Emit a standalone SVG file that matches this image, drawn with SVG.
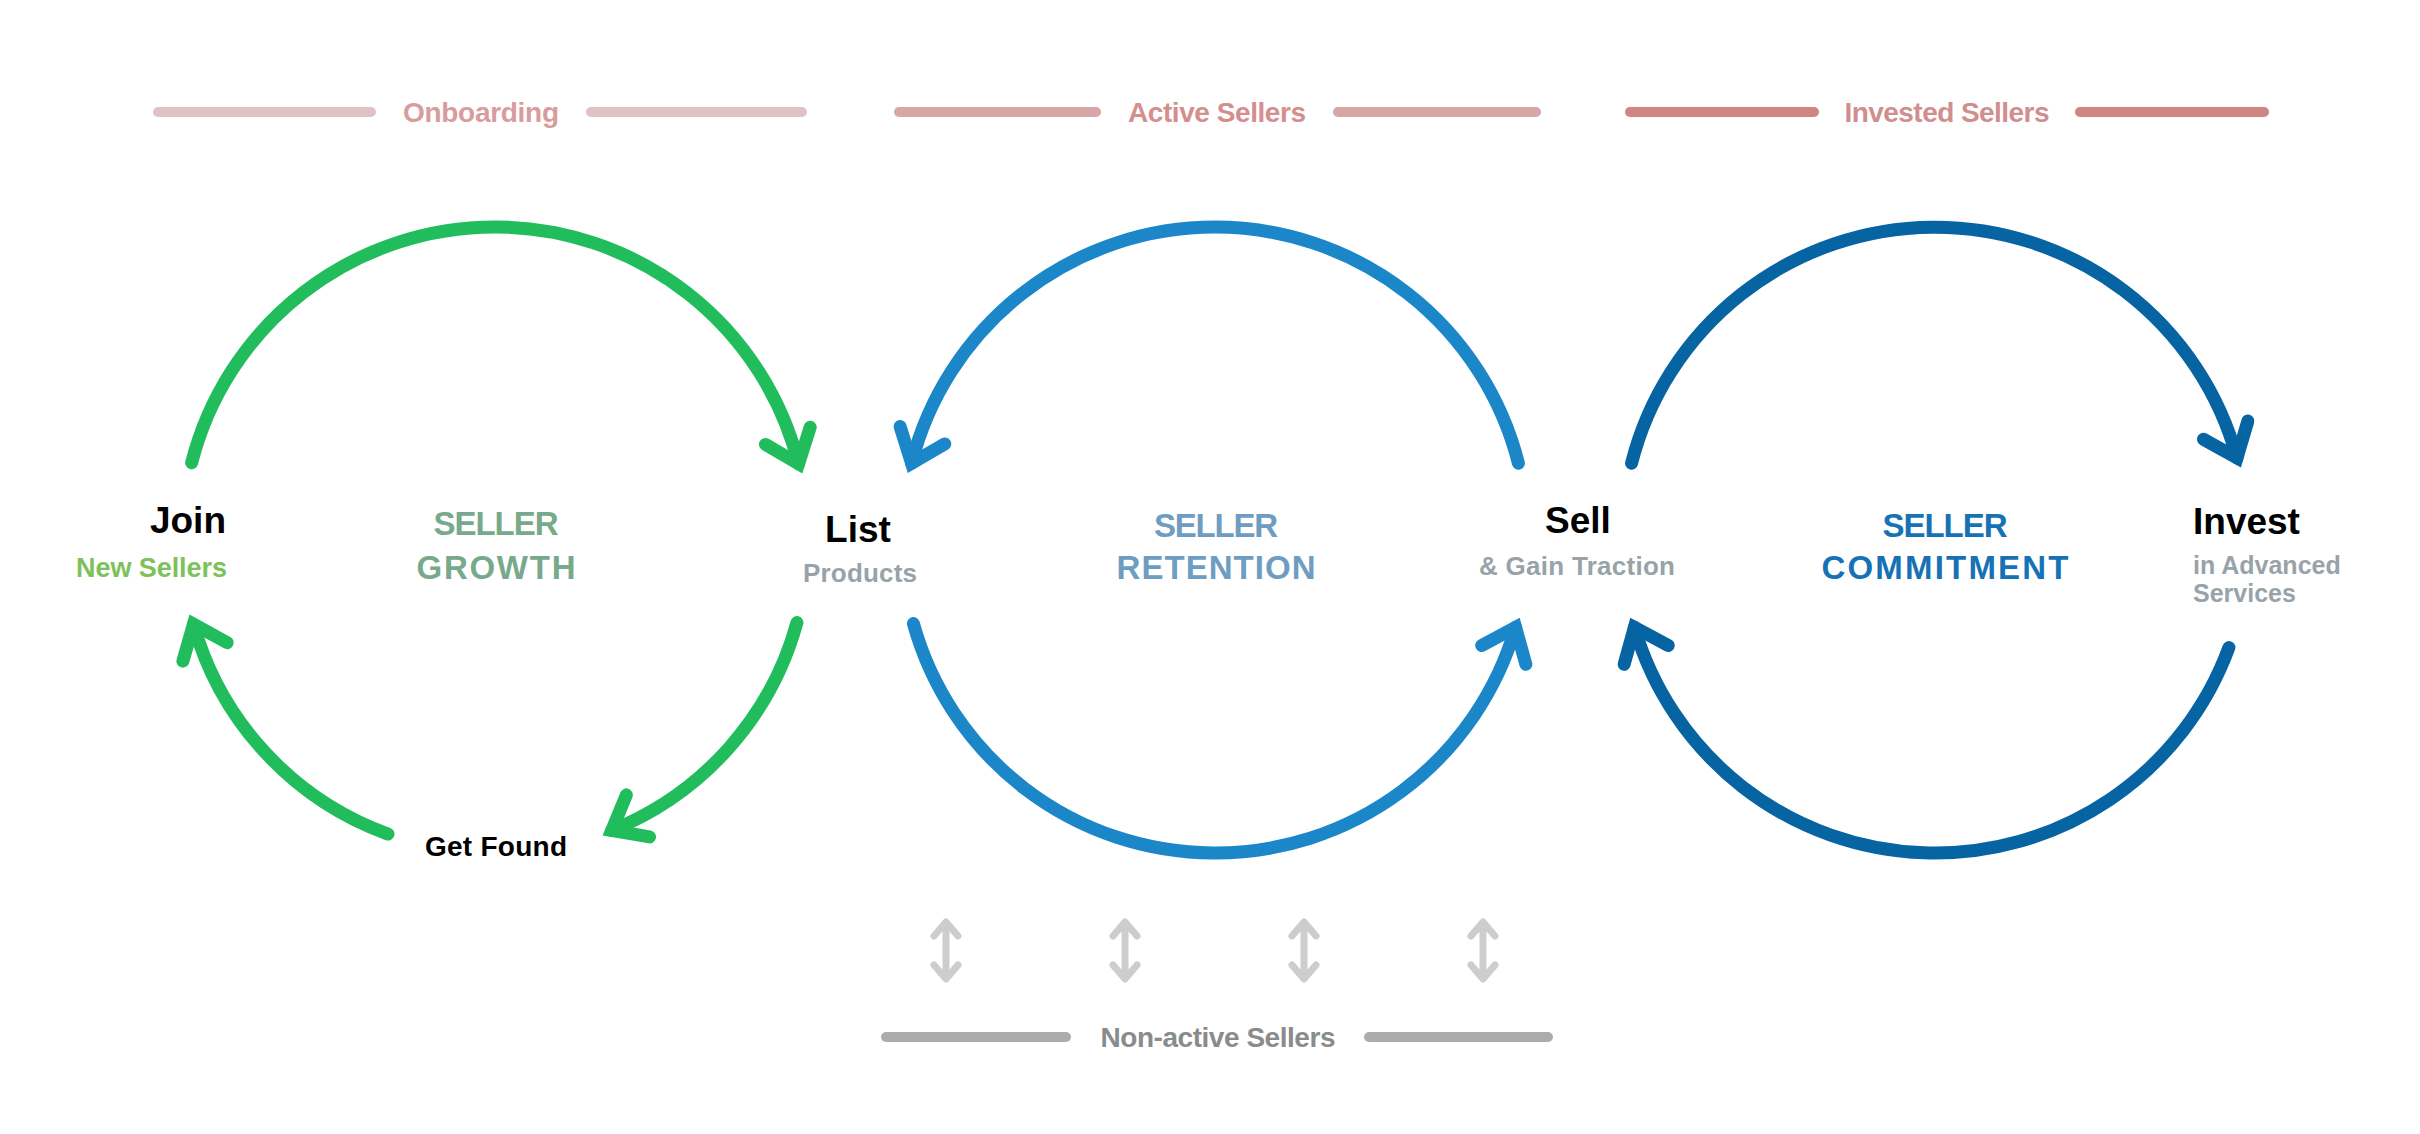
<svg xmlns="http://www.w3.org/2000/svg" width="2420" height="1134" viewBox="0 0 2420 1134">
  <style>
    text { font-family: "Liberation Sans", Arial, sans-serif; font-weight: 700; }
    .title { font-size: 37px; fill: #000000; }
    .sub { font-size: 26px; fill: #98a3a9; }
    .phase { font-size: 28px; }
    .bar { stroke-width: 10; stroke-linecap: round; fill: none; }
    .loop { font-size: 33px; text-anchor: middle; }
    .arc { fill: none; stroke-width: 13; stroke-linecap: round; }
    .g { stroke: #21bc5c; }
    .b { stroke: #1b87c9; }
    .d { stroke: #0764a2; }
    .head { fill: none; stroke-width: 13; stroke-linecap: round; stroke-linejoin: miter; stroke-miterlimit: 10; }
    .dbl { fill: none; stroke: #cdcdcd; stroke-width: 7; stroke-linecap: round; stroke-linejoin: round; }
  </style>
  <defs>
    <marker id="ah-green" markerUnits="userSpaceOnUse" orient="auto" overflow="visible" markerWidth="1" markerHeight="1">
      <path class="head" d="M-30,-24 L0,0 L-30,24" stroke="#21bc5c" transform="rotate(-7)"/>
    </marker>
    <marker id="ah-blue" markerUnits="userSpaceOnUse" orient="auto" overflow="visible" markerWidth="1" markerHeight="1">
      <path class="head" d="M-30,-24 L0,0 L-30,24" stroke="#1b87c9" transform="rotate(7)"/>
    </marker>
    <marker id="ah-dark" markerUnits="userSpaceOnUse" orient="auto" overflow="visible" markerWidth="1" markerHeight="1">
      <path class="head" d="M-30,-24 L0,0 L-30,24" stroke="#0764a2" transform="rotate(-7)"/>
    </marker>
  </defs>

  <rect width="2420" height="1134" fill="#ffffff"/>

  <!-- Phase headers -->
  <g id="phase-onboarding">
    <line class="bar" x1="158" y1="112" x2="371" y2="112" stroke="#e2c1c3"/>
    <line class="bar" x1="591" y1="112" x2="802" y2="112" stroke="#e2c1c3"/>
    <text class="phase" x="481" y="122" text-anchor="middle" fill="#d99c9c" textLength="156">Onboarding</text>
  </g>
  <g id="phase-active">
    <line class="bar" x1="899" y1="112" x2="1096" y2="112" stroke="#d9a5a6"/>
    <line class="bar" x1="1338" y1="112" x2="1536" y2="112" stroke="#d9a5a6"/>
    <text class="phase" x="1217" y="122" text-anchor="middle" fill="#d48e8e" textLength="178">Active Sellers</text>
  </g>
  <g id="phase-invested">
    <line class="bar" x1="1630" y1="112" x2="1814" y2="112" stroke="#d08585"/>
    <line class="bar" x1="2080" y1="112" x2="2264" y2="112" stroke="#d08585"/>
    <text class="phase" x="1947" y="122" text-anchor="middle" fill="#d08e8e" textLength="205">Invested Sellers</text>
  </g>

  <!-- Connectors -->
  <g id="connectors">
    <!-- Seller growth loop (green) -->
    <path id="c-join-list" class="arc g" d="M191.7,462.7 A313,313 0 0 1 798.6,463.8" marker-end="url(#ah-green)"/>
    <path id="c-list-getfound" class="arc g" d="M796.9,622.6 A313,313 0 0 1 611.7,830.4" marker-end="url(#ah-green)"/>
    <path id="c-getfound-join" class="arc g" d="M388.0,834.1 A313,313 0 0 1 193.5,624.2" marker-end="url(#ah-green)"/>
    <!-- Seller retention loop (blue) -->
    <path id="c-sell-list" class="arc b" d="M1518.4,463.2 A313,313 0 0 0 911.6,463.2" marker-end="url(#ah-blue)"/>
    <path id="c-list-sell" class="arc b" d="M913.4,623.6 A313,313 0 0 0 1515.6,627.3" marker-end="url(#ah-blue)"/>
    <!-- Seller commitment loop (dark blue) -->
    <path id="c-sell-invest" class="arc d" d="M1631.6,463.2 A313,313 0 0 1 2237.0,457.9" marker-end="url(#ah-dark)"/>
    <path id="c-invest-sell" class="arc d" d="M2228.9,647.6 A313,313 0 0 1 1634.4,627.3" marker-end="url(#ah-dark)"/>
    <!-- Non-active double arrows -->
    <path class="dbl" d="M946,924 V977 M934,936 L946,922 L958,936 M934,965 L946,979 L958,965"/>
    <path class="dbl" d="M1125,924 V977 M1113,936 L1125,922 L1137,936 M1113,965 L1125,979 L1137,965"/>
    <path class="dbl" d="M1304,924 V977 M1292,936 L1304,922 L1316,936 M1292,965 L1304,979 L1316,965"/>
    <path class="dbl" d="M1483,924 V977 M1471,936 L1483,922 L1495,936 M1471,965 L1483,979 L1495,965"/>
  </g>

  <!-- Nodes -->
  <g id="node-join">
    <text class="title" x="226" y="533" text-anchor="end">Join</text>
    <text x="227" y="577" text-anchor="end" font-size="27" fill="#7cc25b" textLength="151">New Sellers</text>
  </g>
  <g id="node-seller-growth">
    <text class="loop" x="496" y="535" fill="#79a98b" textLength="125">SELLER</text>
    <text class="loop" x="496" y="579" fill="#79a98b" textLength="159">GROWTH</text>
  </g>
  <g id="node-list">
    <text class="title" x="858" y="542" text-anchor="middle">List</text>
    <text class="sub" x="860" y="582" text-anchor="middle" textLength="114">Products</text>
  </g>
  <g id="node-seller-retention">
    <text class="loop" x="1216" y="537" fill="#6f9dc1" textLength="124">SELLER</text>
    <text class="loop" x="1216" y="579" fill="#6f9dc1" textLength="199">RETENTION</text>
  </g>
  <g id="node-sell">
    <text class="title" x="1578" y="533" text-anchor="middle">Sell</text>
    <text class="sub" x="1577" y="575" text-anchor="middle" textLength="196">&amp; Gain Traction</text>
  </g>
  <g id="node-seller-commitment">
    <text class="loop" x="1945" y="537" fill="#1672b5" textLength="125">SELLER</text>
    <text class="loop" x="1945" y="579" fill="#1672b5" textLength="247">COMMITMENT</text>
  </g>
  <g id="node-invest">
    <text class="title" x="2193" y="534">Invest</text>
    <text x="2193" y="574" font-size="25" fill="#98a3a9">in Advanced</text>
    <text x="2193" y="602" font-size="25" fill="#98a3a9">Services</text>
  </g>
  <g id="node-get-found">
    <text x="496" y="856" text-anchor="middle" font-size="28" fill="#000000" textLength="142">Get Found</text>
  </g>
  <g id="phase-non-active">
    <line class="bar" x1="886" y1="1037" x2="1066" y2="1037" stroke="#abadad"/>
    <line class="bar" x1="1369" y1="1037" x2="1548" y2="1037" stroke="#abadad"/>
    <text class="phase" x="1218" y="1047" text-anchor="middle" fill="#888c8c" textLength="235">Non-active Sellers</text>
  </g>
</svg>
